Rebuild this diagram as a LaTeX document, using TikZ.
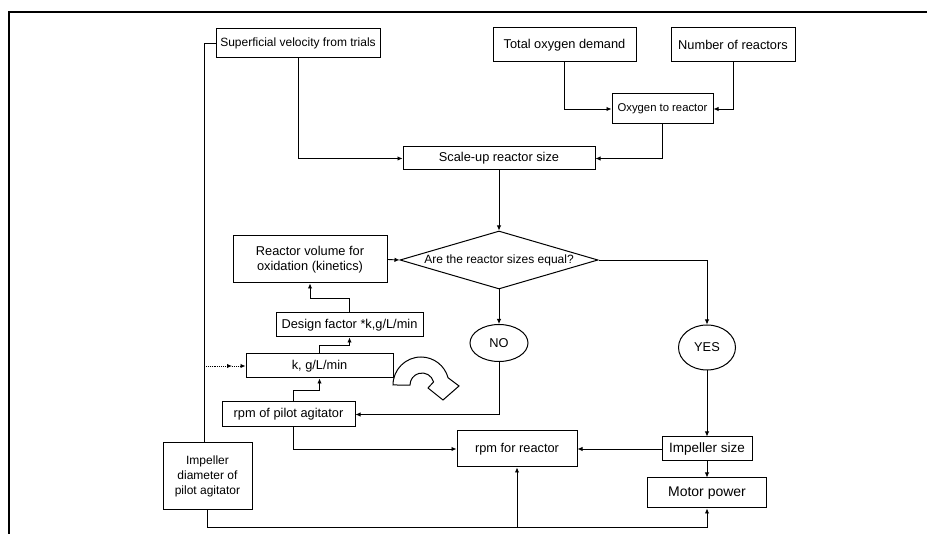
\documentclass[tikz,border=0pt]{standalone}
\usepackage{fontspec}
\setmainfont{Liberation Sans}
\usetikzlibrary{shapes.geometric,arrows.meta}
\begin{document}
\begin{tikzpicture}[x=1pt,y=-1pt,
  box/.style={draw,line width=1pt,inner sep=0pt,align=center,font=\fontsize{12.8}{15}\selectfont},
  smallfont/.style={font=\fontsize{12}{14}\selectfont},
  oval/.style={draw,ellipse,line width=1pt,inner sep=0pt,font=\fontsize{12.8}{15}\selectfont},
  conn/.style={line width=0.9pt},
  arr/.style={conn,-{Latex[length=5pt,width=4.5pt]}}]
\useasboundingbox (0,0) rectangle (927,534);
% frame
\draw[line width=1.4pt] (927,12) -- (9,12) -- (9,534);
% nodes
\node[box,smallfont,minimum width=164pt,minimum height=29pt] (sv) at (298,43.5) {Superficial velocity from trials};
\node[box,minimum width=143pt,minimum height=34pt] (tod) at (564.5,45) {Total oxygen demand};
\node[box,minimum width=124pt,minimum height=34pt] (nr) at (733,45) {Number of reactors};
\node[box,font=\fontsize{11.3}{13}\selectfont,minimum width=101pt,minimum height=30pt] (oxr) at (662.5,109) {Oxygen to reactor};
\node[box,minimum width=192pt,minimum height=23pt] (sur) at (499,158.5) {Scale-up reactor size};
\node[box,smallfont,diamond,aspect=3.4,minimum width=198pt,minimum height=58pt] (dia) at (499,260) {Are the reactor sizes equal?};
\node[box,minimum width=154pt,minimum height=47pt] (rv) at (310,259.5) {Reactor volume for\\oxidation (kinetics)};
\node[box,minimum width=147pt,minimum height=24pt] (df) at (349.5,325) {Design factor *k,g/L/min};
\node[box,minimum width=147pt,minimum height=24pt] (k) at (319.5,366) {k, g/L/min};
\node[box,minimum width=133pt,minimum height=25pt] (rpa) at (288.5,414.5) {rpm of pilot agitator};
\node[oval,minimum width=58pt,minimum height=37pt] (no) at (499,343) {NO};
\node[oval,minimum width=57pt,minimum height=45pt] (yes) at (707,347.5) {YES};
\node[box,font=\fontsize{13.5}{15}\selectfont,minimum width=90pt,minimum height=24pt] (is) at (707,449) {Impeller size};
\node[box,minimum width=120pt,minimum height=36pt] (rr) at (517,449) {rpm for reactor};
\node[box,font=\fontsize{14}{16}\selectfont,minimum width=119pt,minimum height=30pt] (mp) at (707,493) {Motor power};
\node[box,font=\fontsize{12}{15}\selectfont,minimum width=89pt,minimum height=67pt] (id) at (207.5,476.5) {Impeller\\diameter of\\pilot agitator};
% coordinates
\coordinate (vl) at (204,443);
\coordinate (bot) at (207.5,527);
% connectors
\draw[arr] (tod.south) |- (oxr.west);
\draw[arr] (nr.south) |- (oxr.east);
\draw[arr] (oxr.south) |- (sur.east);
\draw[arr] (sv.south) |- (sur.west);
\draw[arr] (sur.south) -- (dia.north);
\draw[arr] (rv.east) -- (dia.west);
\draw[arr] (df.north) -- (df.north |- 0,298) -| (rv.south);
\draw[arr] (k.north) -- (k.north |- 0,345) -| (df.south);
\draw[arr] ([xshift=4.5pt]rpa.north) -- ([xshift=4.5pt]rpa.north |- 0,390) -| (k.south);
\draw[arr] (dia.south) -- (no.north);
\draw[arr] (no.south) |- (rpa.east);
\draw[arr] (dia.east) -| (yes.north);
\draw[arr] (yes.south) -- (is.north);
\draw[arr] (is.west) -- (rr.east);
\draw[arr] (is.south) -- (mp.north);
\draw[arr] ([xshift=4.5pt]rpa.south) |- (rr.west);
\draw[conn] (sv.west) -| (vl);
\coordinate (kb) at (vl |- k.west);
\coordinate (km) at (232,366);
\draw[arr,densely dotted] (kb) -- (km);
\draw[arr,densely dotted] (km) -- (k.west);
\draw[arr] (id.south) -- (bot) -| (mp.south);
\draw[arr] (rr.south |- bot) -- (rr.south);
% curved block arrow
\draw[line width=1pt,fill=white] (393,385) arc[start angle=180,end angle=345,radius=28]
  -- (459,386) -- (443,400) -- (428,388) -- (433.6,381.9)
  arc[start angle=345,end angle=180,radius=12] -- cycle;
\end{tikzpicture}
\end{document}
